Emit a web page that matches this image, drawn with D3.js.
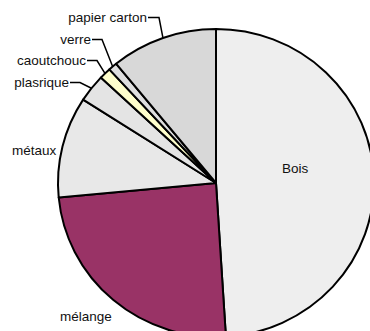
<!DOCTYPE html>
<html>
<head>
<meta charset="utf-8">
<script src="https://cdn.jsdelivr.net/npm/d3@7"></script>
<style>
  html, body { margin: 0; padding: 0; background: #fff; }
  svg { display: block; }
  text { font-family: "Liberation Sans", Arial, sans-serif; font-size: 13.5px; fill: #111; }
</style>
</head>
<body>
<svg id="chart" width="370" height="331"></svg>
<script>
// Waste composition by material (share in %)
const categories = ["Bois", "mélange", "métaux", "plasrique", "caoutchouc", "verre", "papier carton"];
const values = [49.0, 24.5, 10.6, 2.9, 1.2, 0.9, 10.9];
const colors = ["#eeeeee", "#993366", "#e8e8e8", "#e4e4e4", "#ffffcc", "#dedede", "#d8d8d8"];

const W = 370, H = 331;
const cx = 216, cy = 183, r = 154, sx = 158 / 154;

const svg = d3.select("#chart");

const pie = d3.pie().sort(null).value(d => d)(values);
const arc = d3.arc().innerRadius(0).outerRadius(r);

const g = svg.append("g").attr("transform", `translate(${cx},${cy}) scale(${sx},1)`);

g.selectAll("path")
  .data(pie)
  .join("path")
  .attr("d", arc)
  .attr("fill", (d, i) => colors[i])
  .attr("stroke", "#000")
  .attr("stroke-width", 2)
  .attr("stroke-linejoin", "round")
  .attr("vector-effect", "non-scaling-stroke");

// point on the rim at the middle of a slice, in page coordinates
function rimPoint(d) {
  const a = (d.startAngle + d.endAngle) / 2;
  return [cx + sx * r * Math.sin(a), cy - r * Math.cos(a)];
}

// label placement: [x, y, anchor, elbow x] ; elbow null = no leader line
const labelLayout = {
  "Bois": [282, 173, "start", null],
  "mélange": [60, 321, "start", null],
  "métaux": [12, 155, "start", null],
  "plasrique": [69, 87, "end", 80],
  "caoutchouc": [86, 65, "end", 97],
  "verre": [91, 44, "end", 102],
  "papier carton": [147, 22, "end", 159]
};

pie.forEach((d, i) => {
  const name = categories[i];
  const [x, y, anchor, ex] = labelLayout[name];
  if (ex !== null) {
    const [px, py] = rimPoint(d);
    const ly = y - 4.5;
    svg.append("path")
      .attr("d", `M${x + 1},${ly}H${ex}L${px},${py}`)
      .attr("fill", "none")
      .attr("stroke", "#000")
      .attr("stroke-width", 1.5);
  }
  svg.append("text")
    .attr("x", x)
    .attr("y", y)
    .attr("text-anchor", anchor)
    .text(name);
});
</script>
</body>
</html>
